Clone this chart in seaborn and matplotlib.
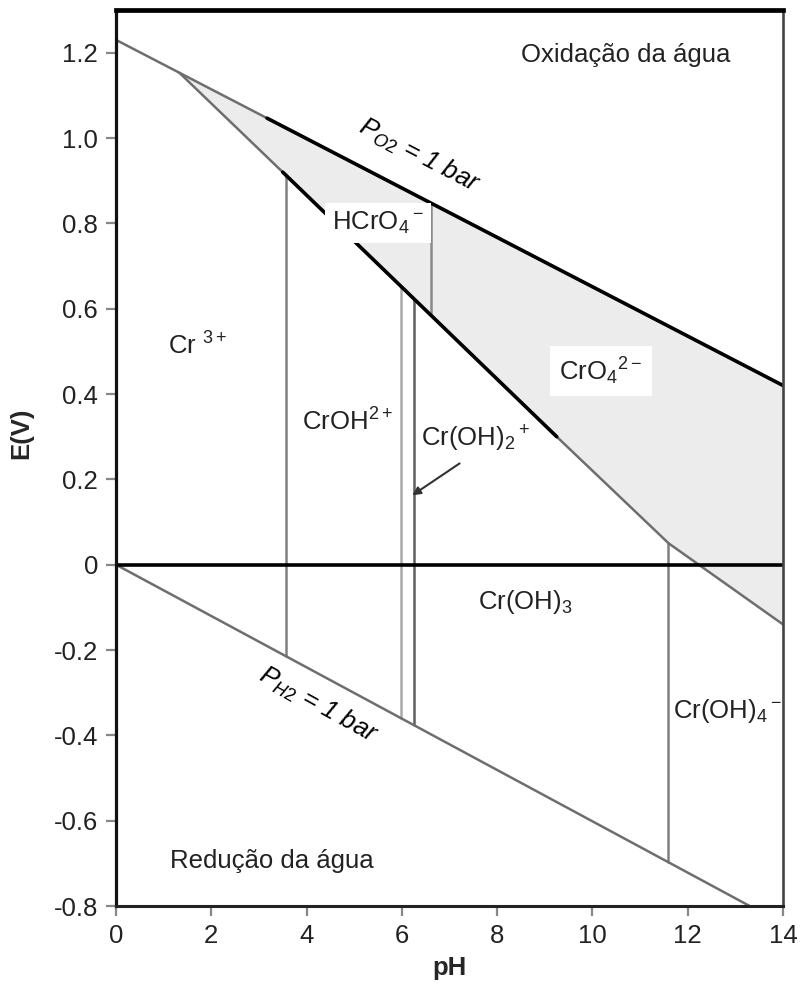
import numpy as np
import pandas as pd
import seaborn as sns
import matplotlib.pyplot as plt

sns.set_style('white')
plt.rcParams['font.family'] = ['Liberation Sans', 'DejaVu Sans']
plt.rcParams['mathtext.fontset'] = 'custom'
plt.rcParams['mathtext.rm'] = 'Liberation Sans'
plt.rcParams['mathtext.it'] = 'Liberation Sans:italic'
plt.rcParams['mathtext.default'] = 'regular'

# boundary lines (pH, E in V)
o2_ph = [0, 14]
o2_e = [1.23, 0.42]
h2_ph = [0, 13.3]
h2_e = [0.0, -0.80]
cr_ph = [1.33, 3.5, 9.25, 11.6, 14]
cr_e = [1.153, 0.92, 0.30, 0.05, -0.14]

# where the lines are drawn heavier
o2_black_from = 3.17
cr_black_ph = [3.5, 9.25]

# vertical boundaries between Cr(III) species (from Cr line down to H2 line)
vert_ph = [3.57, 5.98, 6.26, 11.59]
vert_colors = ['#808080', '#aaaaaa', '#606060', '#808080']
# HCrO4- / CrO4 2- boundary (from O2 line down to Cr line)
hcro4_ph = 6.61

yticks = [-0.8, -0.6, -0.4, -0.2, 0, 0.2, 0.4, 0.6, 0.8, 1.0, 1.2]
ytick_labels = ['-0.8', '-0.6', '-0.4', '-0.2', '0', '0.2', '0.4', '0.6', '0.8', '1.0', '1.2']
xticks = [0, 2, 4, 6, 8, 10, 12, 14]

species = ['Cr $^{3+}$', 'CrOH$^{2+}$', 'Cr(OH)$_2$$^+$', 'Cr(OH)$_3$', 'Cr(OH)$_4$$^-$']
species_ph = [1.72, 4.85, 7.54, 8.59, 12.83]
species_e = [0.512, 0.334, 0.295, -0.087, -0.342]

fig = plt.figure(figsize=(8.04, 9.85), dpi=100)
ax = fig.add_axes([0.1443, 0.0802, 0.8296, 0.9096])

# shaded Cr(VI) domain between O2 line and Cr line
fill_x = np.array(cr_ph)
ax.fill_between(fill_x, np.interp(fill_x, o2_ph, o2_e), cr_e, color='#ececec', lw=0, zorder=1)

# thin gray lines
for xs, ys in [(o2_ph, o2_e), (h2_ph, h2_e), (cr_ph, cr_e)]:
    sns.lineplot(x=xs, y=ys, ax=ax, color='#6e6e6e', lw=1.8, estimator=None, sort=False, zorder=3)

# heavy black segments
bx = [o2_black_from, o2_ph[1]]
sns.lineplot(x=bx, y=np.interp(bx, o2_ph, o2_e), ax=ax, color='black', lw=2.6,
             estimator=None, sort=False, zorder=4)
sns.lineplot(x=cr_black_ph, y=np.interp(cr_black_ph, cr_ph, cr_e), ax=ax, color='black', lw=2.6,
             estimator=None, sort=False, zorder=4)

# vertical boundaries
for ph, c in zip(vert_ph, vert_colors):
    top = np.interp(ph, cr_ph, cr_e)
    bot = np.interp(ph, h2_ph, h2_e)
    ax.plot([ph, ph], [top, bot], color=c, lw=1.8, zorder=2)
ax.plot([hcro4_ph, hcro4_ph], [np.interp(hcro4_ph, o2_ph, o2_e), np.interp(hcro4_ph, cr_ph, cr_e)],
        color='#8a8a8a', lw=1.8, zorder=2)

ax.axhline(0, color='black', lw=2.6, zorder=3)

# labels
fs = 18.5
ax.text(10.7, 1.195, 'Oxidação da água', fontsize=fs, ha='center', va='center', color='#222')
ax.text(3.27, -0.695, 'Redução da água', fontsize=fs, ha='center', va='center', color='#222')
for lab, x, y in zip(species, species_ph, species_e):
    ax.text(x, y, lab, fontsize=fs, ha='center', va='center', color='#222', zorder=5)
ax.text(5.5, 0.80, 'HCrO$_4$$^-$', fontsize=fs, ha='center', va='center', color='#222', zorder=5,
        bbox=dict(facecolor='white', edgecolor='none', pad=5))
ax.text(10.18, 0.454, 'CrO$_4$$^{2-}$', fontsize=fs, ha='center', va='center', color='#222', zorder=5,
        bbox=dict(facecolor='white', edgecolor='none', pad=7))
ax.text(6.36, 0.96, r'$\mathit{P}_{\mathit{O2}}$ = 1 bar', fontsize=fs, fontstyle='italic',
        rotation=-27.5, ha='center', va='center', color='black', zorder=5)
ax.text(4.24, -0.33, r'$\mathit{P}_{\mathit{H2}}$ = 1 bar', fontsize=fs, fontstyle='italic',
        rotation=-29, ha='center', va='center', color='black', zorder=5)
ax.annotate('', xy=(6.17, 0.159), xytext=(7.26, 0.241),
            arrowprops=dict(arrowstyle='-|>', color='#333', lw=1.5, mutation_scale=12), zorder=6)

ax.set_xlim(0, 14)
ax.set_ylim(-0.8, 1.3)
ax.set_xticks(xticks)
ax.set_yticks(yticks)
ax.set_yticklabels(ytick_labels)
ax.tick_params(axis='both', direction='out', length=7, width=1.6, color='#888',
               labelsize=fs, labelcolor='#222', pad=6, left=True, bottom=True)

ax.set_xlabel('pH', fontsize=fs, fontweight='bold')
ax.set_ylabel('E(V)', fontsize=fs, fontweight='bold')
ax.xaxis.set_label_coords(0.5, -0.056)
ax.yaxis.set_label_coords(-0.124, 0.528)

ax.spines['top'].set_linewidth(3.4)
ax.spines['top'].set_color('black')
ax.spines['left'].set_linewidth(2.3)
ax.spines['left'].set_color('#111')
ax.spines['bottom'].set_linewidth(2.2)
ax.spines['bottom'].set_color('#222')
ax.spines['right'].set_linewidth(1.9)
ax.spines['right'].set_color('#444')
for s in ax.spines.values():
    s.set_zorder(7)

fig.savefig('out.png', dpi=100)
